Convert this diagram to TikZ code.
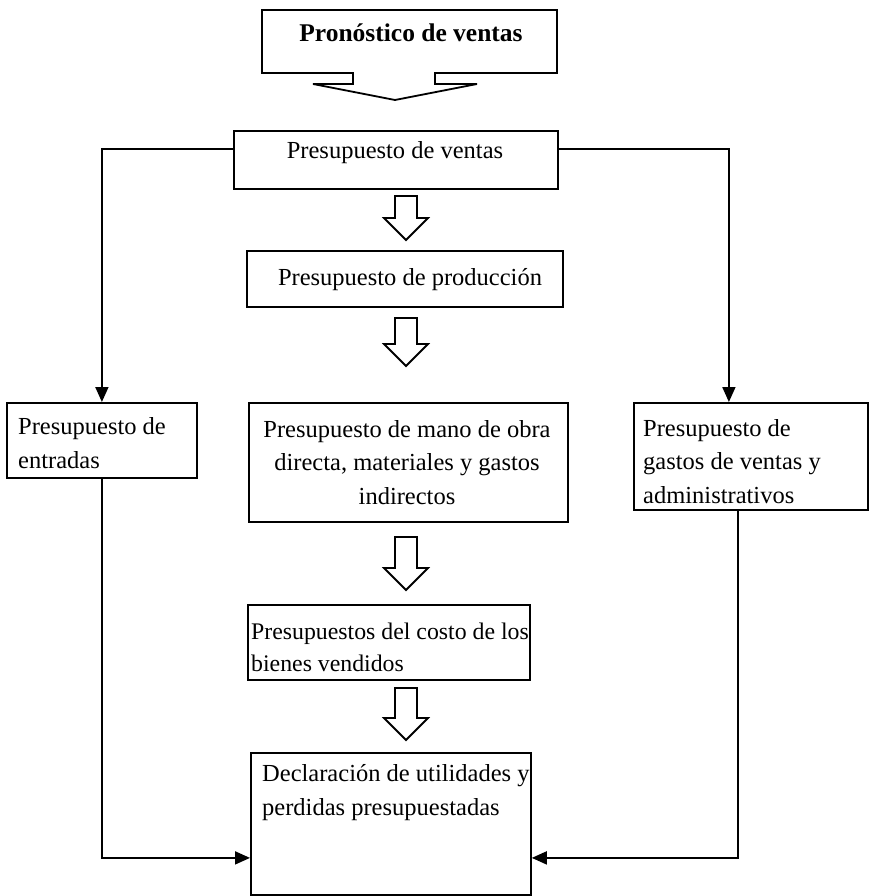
\documentclass[tikz,border=0pt]{standalone}
\usepackage{fontspec}
\setmainfont{Liberation Serif}
\usetikzlibrary{arrows.meta}

\begin{document}
\begin{tikzpicture}[
    x=1pt,
    y=-1pt,
    line join=miter,
    box/.style={
      draw=black,
      line width=1.8pt,
      anchor=north west,
      inner sep=0pt
    },
    txt/.style={
      font=\fontsize{24.5}{33.5}\selectfont,
      inner sep=0pt,
      anchor=base west,
      align=left
    },
    ctxt/.style={
      txt,
      anchor=base,
      align=center
    },
    conn/.style={
      draw=black,
      line width=1.8pt,
      -{Triangle[length=15pt,width=13pt]}
    },
    hollow/.style={
      draw=black,
      line width=1.8pt,
      fill=white
    }
]
\fill[white] (0,0) rectangle (877,896);
\useasboundingbox (0,0) rectangle (877,896);

% Forecast callout at the top.
\draw[hollow] (262,10) -- (557,10) -- (557,73) -- (435,73) -- (435,84)
  -- (477,84) -- (395,100) -- (313,84) -- (353,84) -- (353,73)
  -- (262,73) -- cycle;
\node[ctxt,font=\fontsize{25.5}{35}\selectfont\bfseries] (pronostico)
  at (411,42) {Pronóstico de ventas};

% Budget boxes.
\node[box,minimum width=324pt,minimum height=58pt] (ventas) at (233,130) {};
\node[box,minimum width=316pt,minimum height=56pt] (produccion) at (246,250) {};
\node[box,minimum width=190pt,minimum height=75pt] (entradas) at (6,402) {};
\node[box,minimum width=319pt,minimum height=119pt] (mano) at (248,402) {};
\node[box,minimum width=234pt,minimum height=107pt] (gastos) at (633,402) {};
\node[box,minimum width=282pt,minimum height=75pt] (costo) at (247,604) {};
\node[box,minimum width=280pt,minimum height=142pt] (declaracion) at (250,752) {};

% Multi-line texts sit on the baseline of their last line.
\node[ctxt] (ventas-t) at (395,159) {Presupuesto de ventas};
\node[ctxt] (produccion-t) at (410,285) {Presupuesto de producción};
\node[txt] (entradas-t) at (18,468) {Presupuesto de\\entradas};
\node[ctxt] (mano-t) at (407,504)
  {Presupuesto de mano de obra\\directa, materiales y gastos\\indirectos};
\node[txt] (gastos-t) at (643,503)
  {Presupuesto de\\gastos de ventas y\\administrativos};
\node[txt,font=\fontsize{23.8}{32}\selectfont] (costo-t) at (251,671)
  {Presupuestos del costo de los\\bienes vendidos};
\node[txt] (declaracion-t) at (262,815)
  {Declaración de utilidades y\\perdidas presupuestadas};

% Hollow block arrows down the middle column.
\foreach \ya/\yb in {196/240, 318/366, 537/590, 688/740} {
  \draw[hollow] (395,\ya) -- (417,\ya) -- (417,{\yb-22}) -- (428,{\yb-22})
    -- (406,\yb) -- (384,{\yb-22}) -- (395,{\yb-22}) -- cycle;
}

% Side connectors.
\draw[conn] ([yshift=11pt]ventas.west) -| (entradas.north);
\draw[conn] ([yshift=11pt]ventas.east) -| ([xshift=-22pt]gastos.north);
\draw[conn] (entradas.south) |- ([yshift=-34pt]declaracion.west);
\draw[conn] ([xshift=-13pt]gastos.south) |- ([yshift=-34pt]declaracion.east);

\end{tikzpicture}
\end{document}
